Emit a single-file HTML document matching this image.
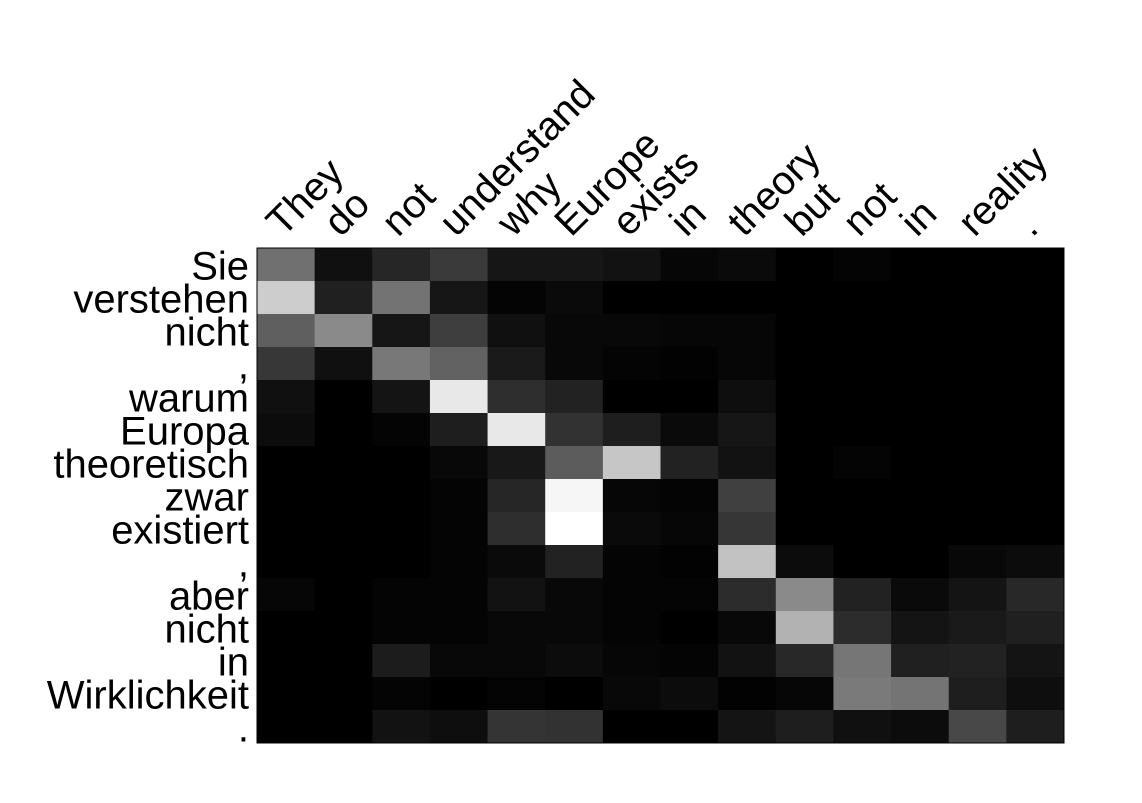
<!DOCTYPE html>
<html><head><meta charset="utf-8"><style>
body{margin:0;background:#fff;}
svg text{font-family:"Liberation Sans",sans-serif;font-size:40px;letter-spacing:0px;fill:#000;}
</style></head><body>
<svg id="chart" width="1142" height="798" xmlns="http://www.w3.org/2000/svg">
<g id="cells"></g>
<g id="xl"></g>
<g id="yl"></g>
<rect x="257" y="248" width="807" height="495" fill="none" stroke="#000" stroke-width="1"/>
</svg>
<script>
const sourceWords=["They","do","not","understand","why","Europe","exists","in","theory","but","not","in","reality","."];
const targetWords=["Sie","verstehen","nicht",",","warum","Europa","theoretisch","zwar","existiert",",","aber","nicht","in","Wirklichkeit","."];
const weights=[
[112,16,38,58,22,22,18,6,10,0,4,0,0,0],
[205,32,115,22,4,10,0,0,0,0,0,0,0,0],
[95,138,22,62,16,8,8,6,6,0,0,0,0,0],
[55,16,120,98,26,8,4,2,6,0,0,0,0,0],
[16,0,20,232,46,34,0,0,14,0,0,0,0,0],
[12,0,4,30,232,50,30,10,22,0,0,0,0,0],
[0,0,0,8,24,92,198,34,18,0,4,0,0,0],
[0,0,0,4,38,246,6,4,64,0,0,0,0,0],
[0,0,0,4,46,255,10,6,54,0,0,0,0,0],
[0,0,0,4,10,34,4,2,194,12,0,0,8,12],
[6,0,4,4,18,8,4,4,44,138,34,10,20,40],
[0,0,4,4,8,8,4,0,8,178,44,20,26,32],
[0,0,28,8,8,12,6,4,18,40,118,32,34,20],
[0,0,4,0,4,0,8,12,2,6,122,116,30,14],
[0,0,18,14,52,50,0,0,20,30,16,12,72,30]
];
const NS="http://www.w3.org/2000/svg";
const X0=257,Y0=248,W=807,H=495;
const cw=W/sourceWords.length, ch=H/targetWords.length;
const xs=i=>X0+i*cw, ys=j=>Y0+j*ch;
const cells=document.getElementById('cells');
weights.forEach((row,j)=>row.forEach((v,i)=>{
  const r=document.createElementNS(NS,'rect');
  r.setAttribute('x',xs(i));r.setAttribute('y',ys(j));
  r.setAttribute('width',cw+0.5);r.setAttribute('height',ch+0.5);
  r.setAttribute('fill',`rgb(${v},${v},${v})`);
  
  
  cells.appendChild(r);
}));
const xl=document.getElementById('xl');
sourceWords.forEach((w,i)=>{
  const t=document.createElementNS(NS,'text');
  const x=xs(i)+cw/2-3, y=238;
  t.setAttribute('x',x);t.setAttribute('y',y);
  t.setAttribute('transform',`rotate(-45 ${x} ${y})`);
  t.textContent=w;
  
  
  xl.appendChild(t);
});
const yl=document.getElementById('yl');
targetWords.forEach((w,j)=>{
  const t=document.createElementNS(NS,'text');
  t.setAttribute('x',249);t.setAttribute('y',ys(j)+ch/2+15);
  t.setAttribute('text-anchor','end');
  t.textContent=w;
  
  
  yl.appendChild(t);
});
</script>
</body></html>
